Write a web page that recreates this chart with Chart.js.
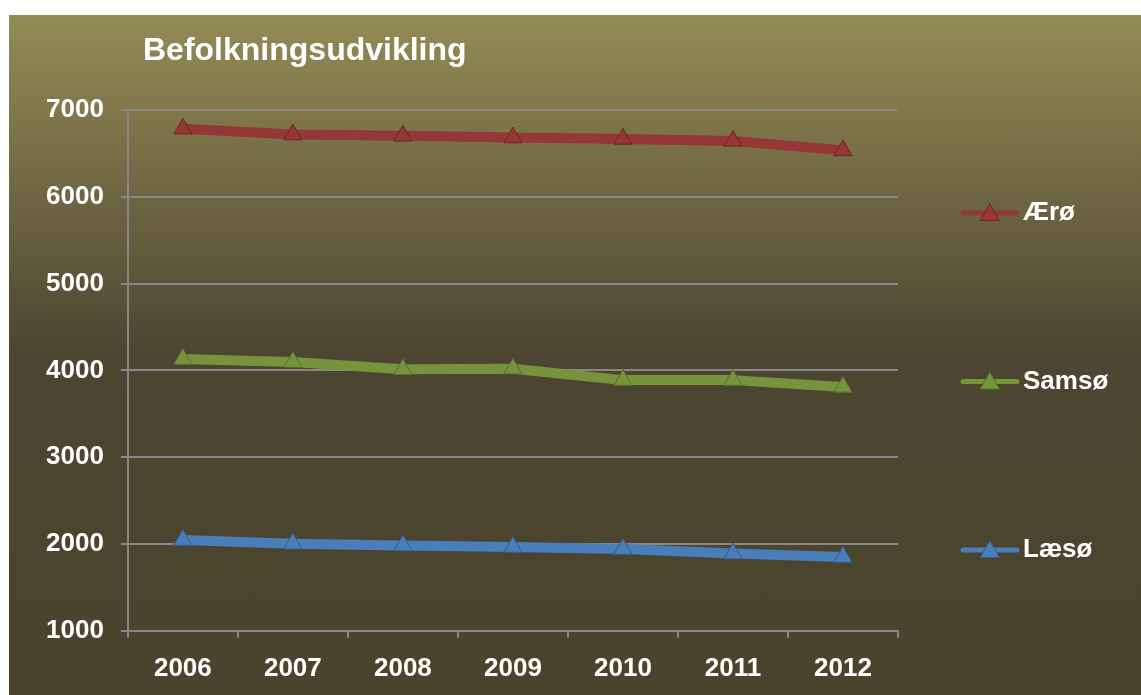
<!DOCTYPE html>
<html>
<head>
<meta charset="utf-8">
<title>Befolkningsudvikling</title>
<script src="https://cdn.jsdelivr.net/npm/chart.js@4.4.1/dist/chart.umd.min.js"></script>
<style>
  html, body { margin: 0; padding: 0; background: #fff; }
  #wrap {
    position: absolute; left: 9px; top: 15px; width: 1132px; height: 680px;
    background: linear-gradient(to bottom, #958b56 0%, #4c4531 50%, #4a432d 100%);
  }
  canvas { display: block; }
</style>
</head>
<body>
<div id="wrap"><canvas id="chart" width="1132" height="680"></canvas></div>
<script>
// Befolkningsudvikling — Ærø, Samsø og Læsø
const years = ['2006', '2007', '2008', '2009', '2010', '2011', '2012'];
const aeroe = [6785, 6717, 6702, 6682, 6667, 6644, 6535];
const samsoe = [4130, 4096, 4012, 4020, 3888, 3888, 3810];
const laesoe = [2046, 2003, 1982, 1965, 1942, 1890, 1850];
const yMin = 1000, yMax = 7000, yStep = 1000;

const FONT = '"Liberation Sans", Arial, sans-serif';
const GRID = '#878787';

function series(label, data, color, edge) {
  return {
    label, data,
    borderColor: color, backgroundColor: color,
    borderWidth: 10, borderJoinStyle: 'round', tension: 0,
    pointStyle: 'triangle', pointRadius: 10.5, pointHoverRadius: 10.5,
    pointBackgroundColor: color, pointBorderColor: edge, pointBorderWidth: 1,
  };
}

// title top-left and a spread-out legend on the right
const decor = {
  id: 'decor',
  afterDraw(chart) {
    const ctx = chart.ctx;
    ctx.save();
    ctx.fillStyle = '#ffffff';
    ctx.font = 'bold 32px ' + FONT;
    ctx.textAlign = 'left';
    ctx.textBaseline = 'alphabetic';
    ctx.fillText('Befolkningsudvikling', 134, 45);

    const x0 = 954, x1 = 1008, top = 198, gap = 168.5;
    chart.data.datasets.forEach((ds, i) => {
      const y = top + i * gap;
      ctx.strokeStyle = ds.borderColor;
      ctx.lineWidth = 5;
      ctx.lineCap = 'round';
      ctx.beginPath(); ctx.moveTo(x0, y); ctx.lineTo(x1, y); ctx.stroke();
      const r = 11, cx = (x0 + x1) / 2, cy = y + 2;
      ctx.fillStyle = ds.borderColor;
      ctx.strokeStyle = ds.pointBorderColor;
      ctx.lineWidth = 1;
      ctx.beginPath();
      ctx.moveTo(cx, cy - r);
      ctx.lineTo(cx + r * Math.sqrt(3) / 2, cy + r / 2);
      ctx.lineTo(cx - r * Math.sqrt(3) / 2, cy + r / 2);
      ctx.closePath(); ctx.fill(); ctx.stroke();
      ctx.fillStyle = '#ffffff';
      ctx.font = 'bold 26px ' + FONT;
      ctx.textBaseline = 'middle';
      ctx.fillText(ds.label, 1014, y);
    });
    ctx.restore();
  }
};

new Chart(document.getElementById('chart'), {
  type: 'line',
  data: {
    labels: years,
    datasets: [
      series('Ærø', aeroe, '#953735', '#6e2624'),
      series('Samsø', samsoe, '#77933c', '#55702a'),
      series('Læsø', laesoe, '#4a7ebb', '#335d93'),
    ]
  },
  options: {
    responsive: false, animation: false,
    layout: { padding: { left: 20, right: 243, top: 95, bottom: -4 } },
    plugins: { legend: { display: false }, title: { display: false }, tooltip: { enabled: false } },
    scales: {
      x: {
        offset: true,
        grid: { offset: true, drawOnChartArea: false, color: GRID, lineWidth: 2, tickLength: 7 },
        border: { display: true, color: GRID, width: 2 },
        ticks: { color: '#ffffff', padding: 15, font: { family: FONT, size: 26, weight: 'bold' } }
      },
      y: {
        min: yMin, max: yMax,
        grid: { color: GRID, lineWidth: 2, tickLength: 7 },
        border: { display: true, color: GRID, width: 2 },
        ticks: {
          stepSize: yStep, color: '#ffffff', padding: 17,
          font: { family: FONT, size: 26, weight: 'bold' },
          callback: v => String(v)
        }
      }
    }
  },
  plugins: [decor]
});
</script>
</body>
</html>
